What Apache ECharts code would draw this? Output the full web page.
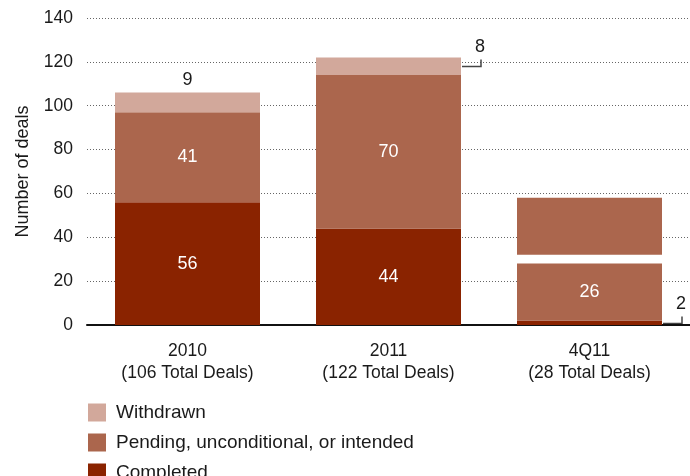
<!DOCTYPE html>
<html>
<head>
<meta charset="utf-8">
<script src="https://cdn.jsdelivr.net/npm/echarts@6/dist/echarts.min.js"></script>
<style>
  html, body { margin: 0; padding: 0; background: #fff; }
  #chart { width: 690px; height: 476px; }
</style>
</head>
<body>
<div id="chart"></div>
<script>
// Deal counts by period
const categories = ['2010', '2011', '4Q11'];
const totalLabels = ['106 Total Deals', '122 Total Deals', '28 Total Deals'];
const completed = [56, 44, 2];
const pending = [41, 70, 26];
const withdrawn = [9, 8, 0];
// Second pending block drawn above the 4Q11 bar, separated by a small gap
const gap4Q11 = [null, null, 4];
const pending4Q11Upper = [null, null, 26];
const yTicks = [0, 20, 40, 60, 80, 100, 120, 140];

const COLORS = {
  completed: '#8a2300',
  pending: '#ab664d',
  withdrawn: '#d2a89b'
};
const FONT = '"Liberation Sans", Arial, Helvetica, sans-serif';
const TEXT = '#1a1a1a';
const BAR_W = 145;

const chart = echarts.init(document.getElementById('chart'), null, { renderer: 'canvas' });

const insideLabel = {
  show: true,
  position: 'inside',
  color: '#fff',
  fontSize: 18,
  fontFamily: FONT
};

const option = {
  animation: false,
  textStyle: { fontFamily: FONT },
  grid: { left: 87, right: 0, top: 18, bottom: 151, containLabel: false },
  legend: {
    orient: 'vertical',
    left: 88,
    top: 403,
    height: 100,
    padding: 0,
    icon: 'rect',
    itemWidth: 18,
    itemHeight: 18,
    itemGap: 11,
    selectedMode: false,
    data: ['Withdrawn', 'Pending, unconditional, or intended', 'Completed'],
    textStyle: { fontSize: 19, color: TEXT, fontFamily: FONT, padding: [0, 0, 0, 5], lineHeight: 18 }
  },
  xAxis: {
    type: 'category',
    data: categories,
    axisLine: { show: true, lineStyle: { color: '#111', width: 2 } },
    axisTick: { show: false },
    axisLabel: {
      color: TEXT,
      fontSize: 17.5,
      lineHeight: 22,
      margin: 15,
      fontFamily: FONT,
      formatter: (v, i) => v + '\n(' + totalLabels[i] + ')'
    }
  },
  yAxis: {
    type: 'value',
    min: yTicks[0],
    max: yTicks[yTicks.length - 1],
    interval: 20,
    name: 'Number of deals',
    nameLocation: 'middle',
    nameGap: 55,
    nameTextStyle: { color: TEXT, fontSize: 18, fontFamily: FONT },
    axisLine: { show: false },
    axisTick: { show: false },
    axisLabel: { color: TEXT, fontSize: 17.5, margin: 14, fontFamily: FONT, padding: [4, 0, 0, 0] },
    splitLine: { show: true, lineStyle: { color: '#666', width: 1, type: [1, 2] } }
  },
  series: [
    {
      name: 'Completed',
      type: 'bar',
      stack: 'deals',
      barWidth: BAR_W,
      itemStyle: { color: COLORS.completed },
      label: Object.assign({}, insideLabel, {
        formatter: p => (p.value >= 10 ? String(p.value) : '')
      }),
      data: completed
    },
    {
      name: 'Pending, unconditional, or intended',
      type: 'bar',
      stack: 'deals',
      barWidth: BAR_W,
      itemStyle: { color: COLORS.pending },
      label: Object.assign({}, insideLabel, { formatter: p => String(p.value) }),
      data: pending
    },
    {
      name: 'Withdrawn',
      type: 'bar',
      stack: 'deals',
      barWidth: BAR_W,
      itemStyle: { color: COLORS.withdrawn },
      label: {
        show: true,
        position: 'top',
        distance: 4,
        color: TEXT,
        fontSize: 18,
        fontFamily: FONT,
        formatter: p => (p.dataIndex === 0 ? String(p.value) : '')
      },
      data: withdrawn
    },
    {
      name: 'gap',
      type: 'bar',
      stack: 'deals',
      barWidth: BAR_W,
      itemStyle: { color: 'rgba(0,0,0,0)' },
      silent: true,
      data: gap4Q11
    },
    {
      name: 'pendingUpper',
      type: 'bar',
      stack: 'deals',
      barWidth: BAR_W,
      itemStyle: { color: COLORS.pending },
      silent: true,
      data: pending4Q11Upper
    }
  ]
};

chart.setOption(option);

// Leader-line callouts for segments too thin to hold their own label
function callout(catIndex, base, value) {
  const mid = chart.convertToPixel({ seriesIndex: 0 }, [catIndex, base + value / 2]);
  const right = mid[0] + BAR_W / 2;
  const y = Math.round(mid[1]) + 0.5;
  const x2 = right + 20;
  return [
    {
      type: 'polyline',
      shape: { points: [[right + 1, y], [x2, y], [x2, y - 7]] },
      style: { stroke: '#444', lineWidth: 1.5, fill: null }
    },
    {
      type: 'text',
      x: x2 - 1,
      y: y - 19,
      style: {
        text: String(value),
        fill: TEXT,
        fontSize: 18,
        fontFamily: FONT,
        align: 'center',
        verticalAlign: 'middle'
      }
    }
  ];
}

chart.setOption({
  graphic: [].concat(
    callout(1, completed[1] + pending[1], withdrawn[1]),
    callout(2, 0, completed[2])
  )
});
</script>
</body>
</html>
